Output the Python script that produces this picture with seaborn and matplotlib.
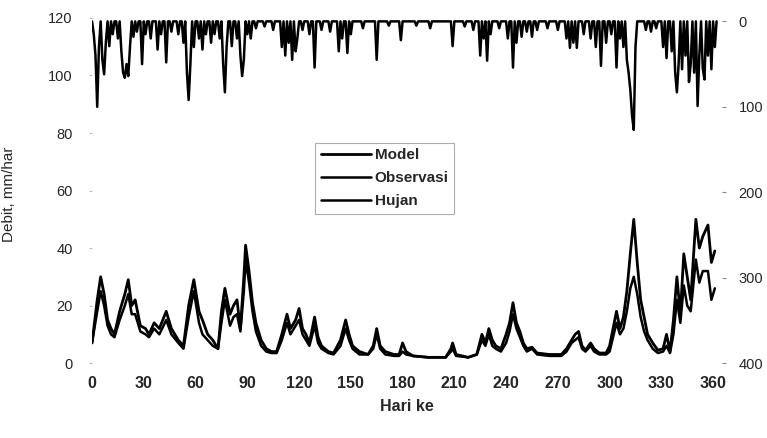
import numpy as np
import pandas as pd
import matplotlib
matplotlib.use('Agg')
import matplotlib.pyplot as plt
import seaborn as sns

sns.set_style('white')
plt.rcParams['font.family'] = ['Liberation Sans', 'DejaVu Sans']

# Debit (mm/hari) - titik-titik yang dibaca dari gambar
flow_days = [0, 3, 5, 7, 9, 11, 13, 16, 19, 21, 23, 25, 28, 31, 33, 36, 39, 43, 46, 50,
             53, 56, 59, 62, 64, 67, 70, 73, 75, 77, 80, 82, 84, 86, 88, 89, 91, 93, 95, 98,
             101, 104, 107, 110, 113, 115, 118, 120, 122, 124, 126, 129, 131, 133, 137, 140,
             144, 147, 149, 151, 155, 160, 163, 165, 167, 170, 175, 178, 180, 182, 186, 195,
             205, 208, 209, 211, 218, 223, 226, 228, 230, 232, 234, 237, 240, 242, 244, 246,
             248, 250, 252, 255, 258, 265, 272, 275, 278, 280, 282, 284, 286, 289, 291, 294,
             298, 300, 302, 304, 306, 308, 310, 312, 314, 316, 318, 320, 322, 325, 328, 331,
             333, 335, 337, 339, 341, 343, 345, 347, 350, 352, 354, 357, 359, 361]
model = [7, 22, 30, 24, 15, 12, 10, 18, 24, 29, 20, 22, 13, 12, 10, 14, 12, 18, 12, 8,
         6, 20, 29, 18, 15, 10, 8, 5, 18, 26, 17, 20, 22, 12, 30, 41, 32, 21, 14, 8,
         5, 4, 4, 10, 17, 12, 15, 19, 12, 10, 7, 16, 9, 6, 4, 3.5,
         8, 15, 10, 6, 4, 3, 6, 12, 6, 4, 3, 3, 7, 4, 2.5, 2,
         2, 5, 7, 3, 2, 3, 10, 7, 12, 8, 6, 5, 10, 14, 21, 14,
         11, 7, 5, 5.5, 3.5, 3, 3, 5, 8, 10, 11, 6, 4.5, 7, 5, 3.5,
         3.5, 6, 12, 18, 12, 16, 25, 38, 50, 35, 22, 16, 10, 7, 4.5, 5,
         10, 4, 15, 30, 17, 38, 30, 22, 50, 40, 44, 48, 35, 39]
observasi = [7, 18, 25, 20, 13, 10, 9, 15, 20, 24, 17, 17, 11, 10, 9, 12, 10, 15, 10, 7,
             5, 16, 25, 14, 10, 8, 6, 5, 14, 22, 13, 16, 17, 11, 25, 36, 28, 18, 11, 6,
             4, 3.5, 3.5, 8, 14, 10, 13, 15, 10, 8, 6, 13, 7, 5, 3.5, 3,
             6, 12, 8, 5, 3, 3, 5, 10, 5, 3, 2.5, 2.5, 4, 3, 2.5, 2,
             2, 4, 5, 2.5, 2, 3, 8, 6, 10, 6, 5, 4, 7, 11, 17, 12,
             9, 6, 4, 5, 3, 2.5, 2.5, 4, 7, 8, 9, 5, 4, 6, 4, 3,
             3, 4, 9, 14, 10, 12, 18, 26, 30, 24, 16, 11, 8, 5, 3.5, 4,
             6, 3.5, 10, 22, 14, 27, 20, 18, 36, 28, 32, 32, 22, 26]

# Hujan (mm) - hari hujan dan jumlahnya
rain_days = [1, 2, 3, 4, 6, 7, 8, 10, 12, 15, 17, 18, 19, 20, 21, 22, 24, 26, 29, 31,
             34, 38, 40, 43, 46, 50, 53, 55, 56, 57, 59, 62, 64, 66, 69, 71, 74, 76, 77, 78,
             81, 84, 86, 87, 88, 90, 92, 95, 100, 105, 110, 112, 114, 116, 118, 119, 122, 126,
             129, 133, 138, 143, 145, 148, 150, 157, 165, 172, 179, 188, 196, 209, 216, 221,
             225, 227, 229, 231, 236, 241, 244, 246, 249, 252, 255, 258, 264, 270, 275, 277,
             279, 281, 285, 289, 292, 295, 298, 301, 304, 306, 308, 310, 311, 312, 313, 314,
             315, 321, 324, 327, 331, 333, 336, 338, 339, 340, 342, 344, 346, 347, 349, 351,
             352, 354, 355, 357, 359, 361]
rain_mm = [15, 40, 100, 30, 45, 62, 25, 29, 15, 20, 35, 60, 66, 50, 64, 30, 18, 12, 50, 15,
           20, 33, 15, 48, 12, 15, 25, 60, 92, 50, 30, 20, 33, 15, 25, 15, 20, 50, 83, 30,
           29, 20, 40, 64, 45, 15, 20, 8, 6, 10, 30, 40, 25, 45, 35, 20, 10, 15,
           54, 10, 12, 35, 20, 37, 15, 8, 45, 5, 22, 5, 8, 29, 6, 10,
           40, 20, 46, 15, 8, 20, 54, 25, 18, 12, 18, 10, 8, 10, 20, 31,
           25, 31, 15, 20, 30, 52, 25, 15, 54, 20, 30, 45, 60, 80, 110, 127,
           30, 10, 12, 8, 30, 43, 35, 60, 83, 50, 56, 40, 71, 50, 60, 99,
           40, 55, 68, 40, 56, 30]

flow_df = pd.DataFrame({'hari': flow_days, 'Model': model, 'Observasi': observasi})
hari = np.arange(0, 363)
hujan = np.zeros(len(hari))
hujan[rain_days] = rain_mm
rain_df = pd.DataFrame({'hari': hari, 'Hujan': hujan})

fig = plt.figure(figsize=(7.67, 4.38), dpi=100)
ax = fig.add_axes([0.12, 0.171, 0.821, 0.788])
ax2 = ax.twinx()

sns.lineplot(data=flow_df, x='hari', y='Model', ax=ax, color='black', lw=2.0, label='Model')
sns.lineplot(data=flow_df, x='hari', y='Observasi', ax=ax, color='black', lw=1.8, label='Observasi')
sns.lineplot(data=rain_df, x='hari', y='Hujan', ax=ax2, color='black', lw=1.8, label='Hujan')

ax.set_xlim(0, 365)
ax.set_ylim(0, 120)
ax2.set_ylim(400, -4)
ax.set_xticks(range(0, 361, 30))
ax.set_yticks(range(0, 121, 20))
ax2.set_yticks(range(0, 401, 100))

for a in (ax, ax2):
    for s in a.spines.values():
        s.set_visible(False)

ax.tick_params(axis='x', length=0, pad=9, labelsize=11.5)
for t in ax.get_xticklabels():
    t.set_fontweight('bold')
ax.tick_params(axis='y', left=True, length=2, width=0.8, color='#bbbbbb', pad=12, labelsize=10.5)
ax2.tick_params(axis='y', right=True, length=3, width=0.8, color='#888888', pad=9, labelsize=10.5)

ax.set_xlabel('Hari ke', fontsize=11.5, fontweight='bold', labelpad=6)
ax.set_ylabel('Debit, mm/har', fontsize=11)
ax.yaxis.set_label_coords(-0.12, 0.49)
ax2.set_ylabel('')

# legend gabungan
h1, l1 = ax.get_legend_handles_labels()
h2, l2 = ax2.get_legend_handles_labels()
ax.get_legend().remove()
ax2.get_legend().remove()
leg = ax2.legend(h1 + h2, l1 + l2, loc='upper left', bbox_to_anchor=(0.411, 0.674),
                 bbox_transform=fig.transFigure, borderaxespad=0, fontsize=11,
                 frameon=True, fancybox=False, edgecolor='#999999', handlelength=3.3,
                 handletextpad=0.25, labelspacing=0.6, borderpad=0.35)
leg.get_frame().set_linewidth(0.8)
for t in leg.get_texts():
    t.set_fontweight('bold')

fig.savefig('out.png', dpi=100, facecolor='white')
